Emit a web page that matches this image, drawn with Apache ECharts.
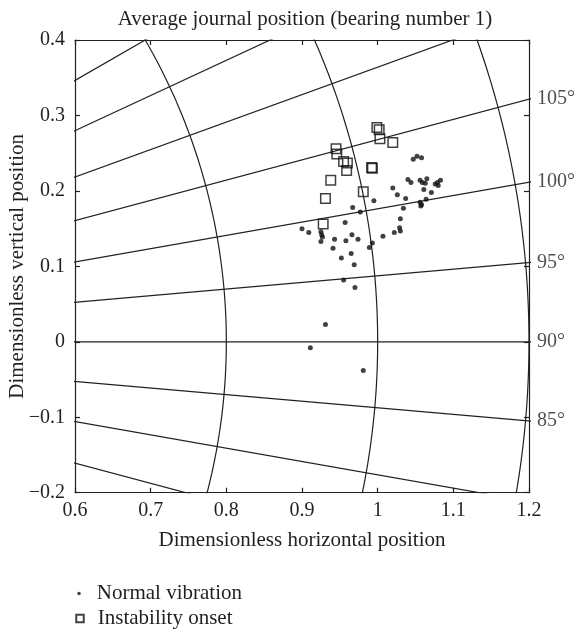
<!DOCTYPE html>
<html>
<head>
<meta charset="utf-8">
<script src="https://cdn.jsdelivr.net/npm/echarts@6/dist/echarts.min.js"></script>
<style>
html,body{margin:0;padding:0;background:#fff;}
#chart{width:577px;height:631px;}
</style>
</head>
<body>
<div id="chart"></div>
<script>
// ---- data ----
const normalX = [1.047,1.052,1.058,1.040,1.044,1.056,1.059,1.065,1.063,1.061,1.071,1.076,1.079,1.083,1.080,
  1.020,1.026,1.037,1.056,1.058,1.057,1.064,1.034,1.030,1.029,1.030,1.022,1.007,0.995,0.967,0.977,0.957,
  0.900,0.909,0.925,0.926,0.927,0.925,0.943,0.958,0.966,0.974,0.993,0.989,0.941,0.965,0.952,0.969,0.955,
  0.970,0.931,0.911,0.981];
const normalY = [0.242,0.246,0.244,0.215,0.211,0.214,0.211,0.216,0.210,0.202,0.198,0.209,0.211,0.214,0.207,
  0.204,0.195,0.190,0.185,0.182,0.180,0.189,0.177,0.163,0.151,0.147,0.145,0.140,0.187,0.178,0.172,0.158,
  0.150,0.145,0.146,0.142,0.139,0.133,0.136,0.134,0.142,0.136,0.131,0.125,0.124,0.117,0.111,0.102,0.082,
  0.072,0.023,-0.008,-0.038];
const onsetX = [0.999,1.002,1.003,1.020,0.945,0.946,0.955,0.960,0.959,0.992,0.993,0.938,0.981,0.931,0.928];
const onsetY = [0.284,0.281,0.269,0.264,0.256,0.249,0.239,0.237,0.227,0.231,0.230,0.214,0.199,0.190,0.156];

const xTickLabels = ['0.6','0.7','0.8','0.9','1','1.1','1.2'];
const yTickLabels = ['\u22120.2','\u22120.1','0','0.1','0.2','0.3','0.4'];

// polar reference grid (journal angle in degrees, 90 = horizontal) and radii
const gridAngles = [75,80,85,90,95,100,105,110,115,120];
const angleLabels = [85,90,95,100,105];
const gridRadii = [0.8,1.0,1.2];

const FONT = 'Liberation Serif';
const INK = '#231f20';

const rad = d => (d - 90) * Math.PI / 180;

const series = [];
gridAngles.forEach(a => {
  const t = Math.tan(rad(a));
  series.push({
    type:'line', silent:true, showSymbol:false, symbol:'none', clip:true, z:1,
    lineStyle:{color:INK, width:1.2},
    data:[[0.5, 0.5*t],[1.3, 1.3*t]]
  });
});
gridRadii.forEach(r => {
  const pts = [];
  for (let d = -30; d <= 45; d += 0.5) {
    const th = d*Math.PI/180;
    pts.push([r*Math.cos(th), r*Math.sin(th)]);
  }
  series.push({
    type:'line', silent:true, showSymbol:false, symbol:'none', clip:true, z:1,
    lineStyle:{color:INK, width:1.2},
    data:pts
  });
});
series.push({
  type:'scatter', silent:true, clip:false, symbolSize:0, z:3,
  data: angleLabels.map(a => ({value:[1.2, 1.2*Math.tan(rad(a))], name:a+'\u00b0'})),
  label:{show:true, position:'right', distance:8, formatter: p => p.name,
    fontFamily:FONT, fontSize:20, color:INK}
});
series.push({
  name:'Normal vibration', type:'scatter', symbol:'circle', symbolSize:5, z:5,
  itemStyle:{color:'#111'},
  data: normalX.map((x,i) => [x, normalY[i]])
});
series.push({
  name:'Instability onset', type:'scatter', symbol:'rect', symbolSize:9.5, z:5,
  itemStyle:{color:'rgba(255,255,255,0)', borderColor:'#111', borderWidth:1.5},
  data: onsetX.map((x,i) => [x, onsetY[i]])
});

const axisCommon = {
  axisLine:{show:true, onZero:false, lineStyle:{color:INK, width:1.2}},
  splitLine:{show:false},
  axisTick:{show:true, inside:true, length:5, lineStyle:{color:INK, width:1.2}}
};

const chart = echarts.init(document.getElementById('chart'), null, {renderer:'canvas'});
chart.setOption({
  animation:false,
  backgroundColor:'#fff',
  title:{
    text:'Average journal position (bearing number 1)',
    left:305, top:9, padding:0, textAlign:'center',
    textStyle:{fontFamily:FONT, fontSize:21, fontWeight:'normal', color:INK}
  },
  grid:{left:75, right:48, top:40, bottom:138.3, containLabel:false, outerBoundsMode:'none'},
  xAxis:[
    Object.assign({type:'value', min:0.6, max:1.2, interval:0.1, position:'bottom',
      name:'Dimensionless horizontal position', nameLocation:'middle', nameGap:37,
      nameMoveOverlap:false,
      nameTextStyle:{fontFamily:FONT, fontSize:21, color:INK},
      axisLabel:{show:true, margin:8, fontFamily:FONT, fontSize:20, color:INK,
        formatter:(v,i) => xTickLabels[i]}}, axisCommon),
    Object.assign({type:'value', min:0.6, max:1.2, interval:0.1, position:'top',
      axisLabel:{show:false}}, axisCommon)
  ],
  yAxis:[
    Object.assign({type:'value', min:-0.2, max:0.4, interval:0.1, position:'left',
      name:'Dimensionless vertical position', nameLocation:'middle', nameGap:47,
      nameMoveOverlap:false,
      nameTextStyle:{fontFamily:FONT, fontSize:21, color:INK},
      axisLabel:{show:true, margin:10, fontFamily:FONT, fontSize:20, color:INK,
        formatter:(v,i) => yTickLabels[i]}}, axisCommon),
    Object.assign({type:'value', min:-0.2, max:0.4, interval:0.1, position:'right',
      axisLabel:{show:false}}, axisCommon)
  ],
  legend:[
    {data:['Normal vibration'], orient:'vertical', left:77.25, top:583, padding:0,
      itemWidth:3.5, itemHeight:3.5, selectedMode:false,
      textStyle:{fontFamily:FONT, fontSize:21, color:INK, padding:[0,0,0,11]}},
    {data:['Instability onset'], orient:'vertical', left:75.25, top:608, padding:0,
      itemWidth:7.5, itemHeight:7.5, selectedMode:false,
      textStyle:{fontFamily:FONT, fontSize:21, color:INK, padding:[0,0,0,9]}}
  ],
  series:series
});
</script>
</body>
</html>
